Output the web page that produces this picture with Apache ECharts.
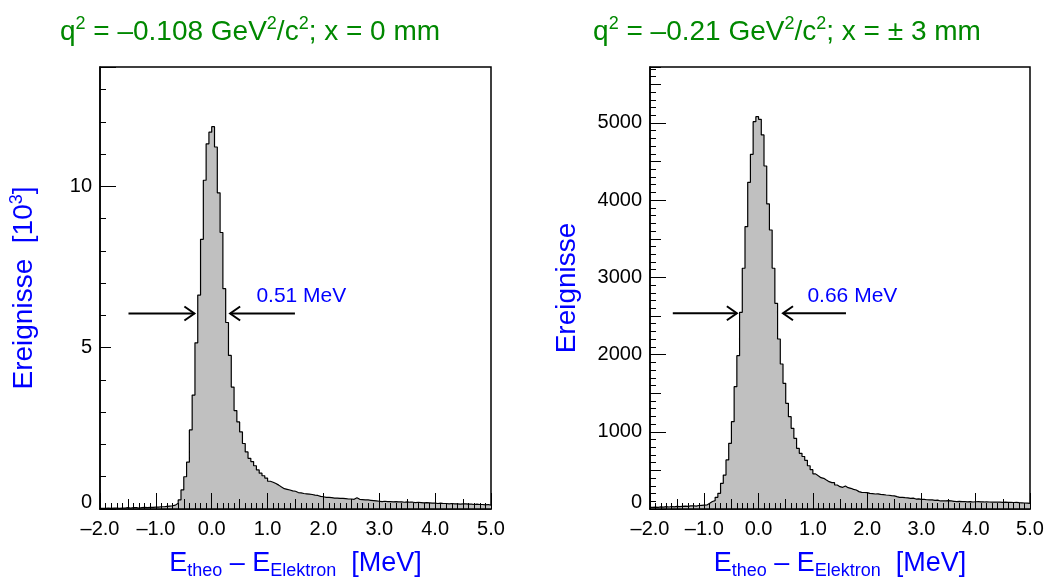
<!DOCTYPE html>
<html><head><meta charset="utf-8">
<script src="https://cdn.jsdelivr.net/npm/echarts@6/dist/echarts.min.js"></script>
<style>html,body{margin:0;padding:0;background:#fff}#c{width:1051px;height:579px}</style>
</head><body><div id="c"></div>
<script>
// ---------- data ----------
const binStart = -2.0;
const binWidth = 0.05;
const xTickLabels = {'-2': '–2.0', '-1': '–1.0', '0': '0.0', '1': '1.0', '2': '2.0', '3': '3.0', '4': '4.0', '5': '5.0'};
const leftYTickLabels = {'0': '0', '5': '5', '10': '10'};
const rightYTickLabels = {'0': '0', '1000': '1000', '2000': '2000', '3000': '3000', '4000': '4000', '5000': '5000'};

// left histogram: events [10^3] per 0.05 MeV bin, from -2.0 to 5.0
const leftCounts = [
  0.02,0.02,0.03,0.02,0.03,0.03,0.02,0.03,0.03,0.04,0.03,0.04,0.04,0.03,0.04,0.05,0.04,0.05,0.05,0.06,
  0.06,0.07,0.07,0.08,0.09,0.10,0.12,0.18,0.28,0.59,1.00,1.45,2.45,3.53,5.15,6.63,8.36,10.19,11.32,11.68,
  11.85,11.22,9.80,8.57,6.83,5.78,4.76,3.78,3.05,2.70,2.39,2.03,1.77,1.57,1.47,1.34,1.21,1.11,1.03,0.96,
  0.86,0.83,0.79,0.74,0.68,0.63,0.61,0.59,0.56,0.55,0.51,0.50,0.48,0.47,0.46,0.45,0.43,0.42,0.39,0.38,
  0.36,0.36,0.35,0.34,0.34,0.33,0.33,0.32,0.31,0.31,0.30,0.35,0.30,0.29,0.28,0.28,0.27,0.26,0.25,0.24,
  0.23,0.24,0.23,0.23,0.22,0.23,0.22,0.22,0.21,0.22,0.21,0.21,0.20,0.21,0.20,0.19,0.20,0.19,0.18,0.18,
  0.17,0.18,0.17,0.17,0.16,0.17,0.16,0.16,0.15,0.16,0.16,0.15,0.15,0.14,0.15,0.14,0.14,0.13,0.14,0.12
];
// right histogram: events per 0.05 MeV bin, from -2.0 to 5.0
const rightCounts = [
  22,25,20,28,24,30,26,32,28,35,30,34,38,33,40,42,38,45,48,50,
  52,74,97,108,151,203,333,440,635,851,1131,1585,1986,2548,3118,3657,4231,4594,5017,5082,
  5047,4845,4443,3951,3614,3118,2664,2202,1878,1628,1369,1196,1045,915,786,721,680,630,560,510,
  455,430,406,397,375,354,341,341,311,289,281,298,276,268,255,246,225,216,214,212,
  203,200,194,196,190,186,181,178,173,170,160,151,150,147,145,138,140,129,132,125,
  125,120,117,119,112,115,104,106,104,108,104,100,95,98,95,96,93,95,91,94,
  95,92,91,93,91,89,91,88,90,86,88,86,87,84,85,82,80,78,76,73
];
// FWHM arrows: [from x, to x (tip), y]
const leftArrows = [[-1.49, -0.31, 6.06], [1.49, 0.33, 6.06]];
const rightArrows = [[-1.58, -0.40, 2535], [1.61, 0.45, 2535]];
// FWHM labels: [x, y]
const leftLabelPos = [0.80, 6.59];
const rightLabelPos = [0.90, 2759];
const leftLabelText = '0.51 MeV';
const rightLabelText = '0.66 MeV';

// ---------- chart ----------
const FONT = '"Liberation Sans", Arial, Helvetica, sans-serif';
const BLUE = '#0000ff';
const GREEN = '#008800';

function histData(counts) {
  const pts = counts.map((v, i) => [+(binStart + i * binWidth).toFixed(3), v]);
  pts.push([+(binStart + counts.length * binWidth).toFixed(3), counts[counts.length - 1]]);
  return pts;
}
function lookup(map) {
  return v => { const k = String(+(+v).toFixed(3)); return map[k] !== undefined ? map[k] : ''; };
}
function arrowRender(params, api) {
  const y = api.value(2);
  const p1 = api.coord([api.value(0), y]);
  const p2 = api.coord([api.value(1), y]);
  const dir = p2[0] > p1[0] ? 1 : -1;
  return {
    type: 'group',
    children: [
      {type: 'line', shape: {x1: p1[0], y1: p1[1], x2: p2[0], y2: p2[1]}, style: {stroke: '#000', lineWidth: 2}},
      {type: 'polyline', shape: {points: [[p2[0] - dir * 10, p2[1] - 7], [p2[0], p2[1]], [p2[0] - dir * 10, p2[1] + 7]]},
       style: {stroke: '#000', lineWidth: 2, fill: null}}
    ]
  };
}
function labelRender(text) {
  return function (params, api) {
    const p = api.coord([api.value(0), api.value(1)]);
    return {type: 'text', x: p[0], y: p[1],
      style: {text: text, fill: BLUE, fontSize: 21, fontFamily: FONT, align: 'left', verticalAlign: 'middle'}};
  };
}

const plots = [
  {left: 100, width: 391, ymax: 13.7, yIntervals: [5, 10, 1], yLens: [11, 16, 6], ylabels: leftYTickLabels,
   counts: leftCounts, arrows: leftArrows, labelPos: leftLabelPos, labelText: leftLabelText,
   yname: '{n|Ereignisse  [10}{p|3}{n|]}', ynameGap: 60},
  {left: 650, width: 380, ymax: 5725, yIntervals: [1000, 500, 100], yLens: [16, 11, 6], ylabels: rightYTickLabels,
   counts: rightCounts, arrows: rightArrows, labelPos: rightLabelPos, labelText: rightLabelText,
   yname: '{n|Ereignisse}', ynameGap: 67}
];
const xIntervals = [1, 0.5, 0.1];
const xLens = [16, 10, 6];

const grid = [], xAxis = [], yAxis = [], series = [];
plots.forEach((p, pi) => {
  for (let k = 0; k < 3; k++) {
    const gi = pi * 3 + k;
    grid.push({left: p.left, top: 67, width: p.width, height: 442, containLabel: false, outerBoundsMode: 'none',
      show: k === 0, borderColor: '#000', borderWidth: 1.5, backgroundColor: 'transparent'});
    const main = k === 0;
    xAxis.push({
      type: 'value', gridIndex: gi, min: -2, max: 5, interval: xIntervals[k], z: 10,
      axisLine: {show: main, onZero: false, lineStyle: {color: '#000', width: 1.5}},
      axisTick: {show: true, inside: true, length: xLens[k], lineStyle: {color: '#000', width: 1}},
      splitLine: {show: false},
      axisLabel: {show: main, formatter: lookup(xTickLabels), color: '#000', fontSize: 20, fontFamily: FONT, margin: 10,
        showMinLabel: true, showMaxLabel: true},
      name: main ? '{n|E}{s|theo}{n| – E}{s|Elektron}{n|  [MeV]}' : '',
      nameLocation: 'middle', nameGap: 39,
      nameTextStyle: {rich: {
        n: {fontSize: 27, lineHeight: 32, color: BLUE, fontFamily: FONT},
        s: {fontSize: 18, lineHeight: 18, verticalAlign: 'bottom', color: BLUE, fontFamily: FONT}
      }}
    });
    yAxis.push({
      type: 'value', gridIndex: gi, min: 0, max: p.ymax, interval: p.yIntervals[k], z: 10,
      axisLine: {show: main, onZero: false, lineStyle: {color: '#000', width: 1.5}},
      axisTick: {show: true, inside: true, length: p.yLens[k], lineStyle: {color: '#000', width: 1}},
      splitLine: {show: false},
      axisLabel: {show: main, color: '#000', fontSize: 20, fontFamily: FONT, margin: 8, showMaxLabel: false,
        formatter: v => { const s = lookup(p.ylabels)(v); return s === '0' ? '{z|0}' : s; },
        rich: {z: {fontSize: 20, color: '#000', fontFamily: FONT, padding: [0, 0, 14, 0]}}},
      name: main ? p.yname : '', nameLocation: 'middle', nameGap: p.ynameGap, nameRotate: 90,
      nameTextStyle: {rich: {
        n: {fontSize: 28, lineHeight: 32, color: BLUE, fontFamily: FONT},
        p: {fontSize: 18, lineHeight: 18, verticalAlign: 'top', color: BLUE, fontFamily: FONT}
      }}
    });
  }
  const gi = pi * 3;
  series.push({
    type: 'line', xAxisIndex: gi, yAxisIndex: gi, data: histData(p.counts), step: 'end', symbol: 'none',
    lineStyle: {color: '#000', width: 1.2}, areaStyle: {color: '#c0c0c0', opacity: 1}, silent: true, z: 2
  });
  series.push({
    type: 'custom', xAxisIndex: gi, yAxisIndex: gi, data: p.arrows, renderItem: arrowRender,
    encode: {x: [0, 1], y: 2}, silent: true, z: 5, clip: false
  });
  series.push({
    type: 'custom', xAxisIndex: gi, yAxisIndex: gi, data: [p.labelPos], renderItem: labelRender(p.labelText),
    encode: {x: 0, y: 1}, silent: true, z: 5, clip: false
  });
});

const titleRich = {
  n: {fontSize: 28, lineHeight: 34, fill: GREEN, fontFamily: FONT},
  p: {fontSize: 18, lineHeight: 18, verticalAlign: 'top', fill: GREEN, fontFamily: FONT}
};
const option = {
  animation: false,
  backgroundColor: '#fff',
  grid, xAxis, yAxis, series,
  graphic: [
    {type: 'text', x: 250, y: 32, style: {text: '{n|q}{p|2}{n| = –0.108 GeV}{p|2}{n|/c}{p|2}{n|; x = 0 mm}',
      rich: titleRich, align: 'center', verticalAlign: 'middle'}},
    {type: 'text', x: 787, y: 32, style: {text: '{n|q}{p|2}{n| = –0.21 GeV}{p|2}{n|/c}{p|2}{n|; x = ± 3 mm}',
      rich: titleRich, align: 'center', verticalAlign: 'middle'}}
  ]
};
const chart = echarts.init(document.getElementById('c'), null, {renderer: 'canvas'});
chart.setOption(option);
</script>
</body></html>
